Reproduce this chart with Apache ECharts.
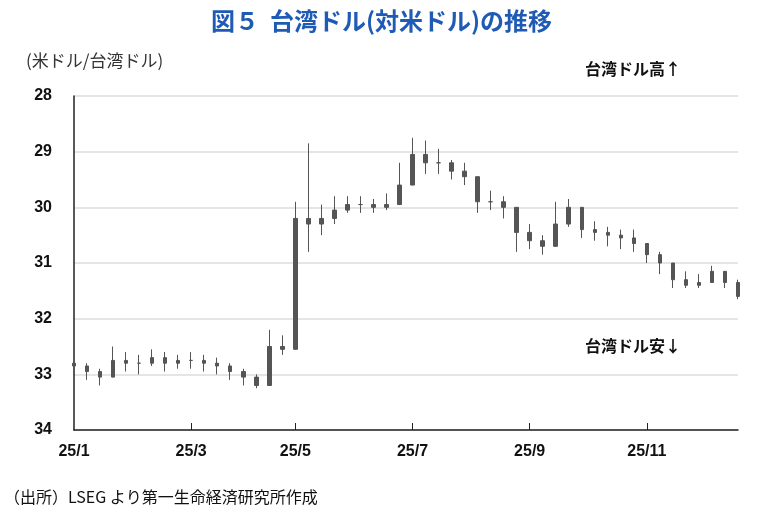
<!DOCTYPE html>
<html><head><meta charset="utf-8">
<script src="https://cdn.jsdelivr.net/npm/echarts@6/dist/echarts.min.js"></script>
<style>html,body{margin:0;background:#fff}#c{width:763px;height:524px}</style>
</head><body><div id="c"></div>
<script>
// weekly TWD per USD (Fri close), with weekly high/low
const weekStart = "2025-01-03";
const closes = [32.85,32.95,33.05,32.75,32.8, 32.8,32.7,32.8,32.75, 32.75,32.8,32.85,32.95,
  33.05,33.2,32.5,32.55, 30.2,30.3,30.2,30.05,29.95, 29.95,30.0,29.95,29.6,
  29.05,29.2,29.2,29.35, 29.45,29.9,29.9,30.0,30.45, 30.6,30.7,30.3,30.0,
  30.4,30.45,30.5,30.55,30.65, 30.85,31.0,31.3,31.4, 31.35,31.15,31.35,31.6];
const highs = [32.7,32.8,32.9,32.5,32.6, 32.65,32.55,32.6,32.65, 32.6,32.65,32.7,32.8,
  32.9,33.0,32.2,32.3, 29.9,28.85,29.95,29.8,29.8, 29.8,29.85,29.75,29.2,
  28.75,28.8,28.95,29.15, 29.2,29.55,29.7,29.8,30.0, 30.3,30.5,29.9,29.85,
  30.2,30.25,30.35,30.4,30.4, 30.7,30.8,31.0,31.15, 31.2,31.05,31.2,31.3];
const lows = [33.0,33.1,33.2,32.95,32.95, 33.0,32.85,32.95,32.9, 32.9,32.95,33.0,33.1,
  33.2,33.25,32.8,32.65, 32.1,30.8,30.5,30.3,30.1, 30.1,30.1,30.05,29.9,
  29.6,29.4,29.4,29.5, 29.6,30.1,30.05,30.2,30.8, 30.75,30.85,30.6,30.35,
  30.55,30.6,30.7,30.75,30.8, 31.0,31.2,31.45,31.45, 31.45,31.3,31.45,31.65];

const dates = [];
const d0 = new Date(weekStart + "T00:00:00Z");
for (let i = 0; i < closes.length; i++) {
  const d = new Date(d0.getTime() + i * 7 * 86400000);
  dates.push(d.toISOString().slice(0, 10));
}
const ohlc = closes.map((c, i) => {
  const o = i === 0 ? 32.8 : closes[i - 1];
  return [o, c, Math.max(lows[i], o, c), Math.min(highs[i], o, c)];
});

const tickIdx = {};
dates.forEach((s, i) => {
  const m = +s.slice(5, 7), day = +s.slice(8, 10);
  if (m % 2 === 1 && day <= 7) tickIdx[i] = "25/" + m;
});

const chart = echarts.init(document.getElementById("c"));
chart.setOption({
  animation: false,
  textStyle: { fontFamily: "Liberation Sans, Noto Sans CJK JP" },
  title: {
    text: "図５  台湾ドル(対米ドル)の推移", left: "center", top: 4,
    textStyle: { color: "#1f5bb5", fontSize: 24, fontWeight: "bold", fontFamily: "Noto Sans CJK JP" }
  },
  graphic: [
    { type: "text", left: 26, top: 52, style: { text: "(米ドル/台湾ドル)", fill: "#333", font: '17px "Noto Sans CJK JP"' } },
    { type: "text", left: 585, top: 61, style: { text: "台湾ドル高↑", fill: "#111", font: 'bold 16px "Noto Sans CJK JP"' } },
    { type: "text", left: 585, top: 338, style: { text: "台湾ドル安↓", fill: "#111", font: 'bold 16px "Noto Sans CJK JP"' } },
    { type: "text", left: 4, top: 489, style: { text: "（出所）LSEG より第一生命経済研究所作成", fill: "#111", font: '16px "Noto Sans CJK JP"' } }
  ],
  grid: { left: 74, right: 25, top: 96, bottom: 94 },
  xAxis: {
    type: "category", data: dates, boundaryGap: false,
    axisLine: { lineStyle: { color: "#222", width: 1.5 } },
    axisTick: { inside: true, length: 7, lineStyle: { color: "#222" }, interval: (i) => i in tickIdx && i > 0 },
    axisLabel: { interval: (i) => i in tickIdx, formatter: (v, i) => tickIdx[i] || "",
      fontSize: 16, fontWeight: "bold", color: "#111", margin: 14 }
  },
  yAxis: {
    type: "value", inverse: true, min: 28, max: 34, interval: 1,
    axisLine: { show: true, lineStyle: { color: "#222", width: 1.5 } },
    axisTick: { show: false },
    axisLabel: { fontSize: 16, fontWeight: "bold", color: "#111", margin: 22 },
    splitLine: { lineStyle: { color: "#ddd", width: 1.5 } }
  },
  series: [{
    type: "candlestick", data: ohlc, barWidth: 4,
    itemStyle: { color: "#555", color0: "#555", borderColor: "#555", borderColor0: "#555", borderWidth: 1 }
  }]
});
</script></body></html>
